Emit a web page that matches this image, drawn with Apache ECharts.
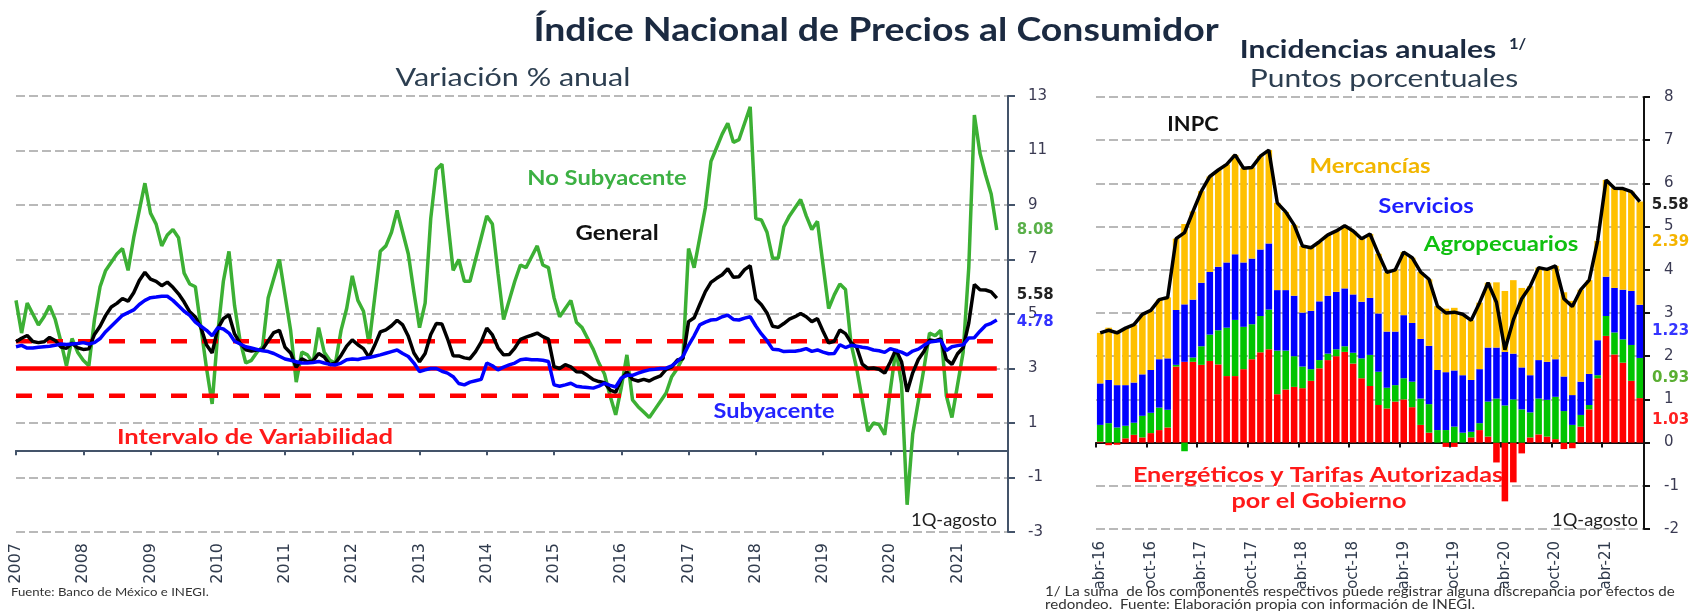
<!DOCTYPE html>
<html lang="es">
<head>
<meta charset="utf-8">
<title>Índice Nacional de Precios al Consumidor</title>
<script src="https://cdn.jsdelivr.net/npm/echarts/dist/echarts.min.js"></script>
<style>
  html, body { margin: 0; padding: 0; background: #fff; }
  #chart { width: 1692px; height: 615px; }
</style>
</head>
<body>
<div id="chart"></div>
<script>
// ---- Variación % anual, ene-2007 a 1Q-ago-2021 (mensual) ----
const years = [2007, 2008, 2009, 2010, 2011, 2012, 2013, 2014, 2015, 2016, 2017, 2018, 2019, 2020, 2021];

const general = [
  3.98, 4.11, 4.21, 3.99, 3.95, 3.98, 4.14, 4.03, 3.79, 3.74, 3.93, 3.76,
  3.70, 3.72, 4.25, 4.55, 4.95, 5.26, 5.39, 5.57, 5.47, 5.78, 6.23, 6.53,
  6.28, 6.20, 6.04, 6.17, 5.98, 5.74, 5.44, 5.08, 4.89, 4.50, 3.86, 3.57,
  4.46, 4.83, 4.97, 4.27, 3.92, 3.69, 3.64, 3.68, 3.70, 4.02, 4.32, 4.40,
  3.78, 3.57, 3.04, 3.36, 3.25, 3.28, 3.55, 3.42, 3.14, 3.20, 3.48, 3.82,
  4.05, 3.87, 3.73, 3.41, 3.85, 4.34, 4.42, 4.57, 4.77, 4.60, 4.18, 3.57,
  3.25, 3.55, 4.25, 4.65, 4.63, 4.09, 3.47, 3.46, 3.39, 3.36, 3.62, 3.97,
  4.48, 4.23, 3.76, 3.50, 3.51, 3.75, 4.07, 4.15, 4.22, 4.30, 4.17, 4.08,
  3.07, 3.00, 3.14, 3.06, 2.88, 2.87, 2.74, 2.59, 2.52, 2.48, 2.21, 2.13,
  2.61, 2.87, 2.60, 2.54, 2.60, 2.54, 2.65, 2.73, 2.97, 3.06, 3.31, 3.36,
  4.72, 4.86, 5.35, 5.82, 6.16, 6.31, 6.44, 6.66, 6.35, 6.37, 6.63, 6.77,
  5.55, 5.34, 5.04, 4.55, 4.51, 4.65, 4.81, 4.90, 5.02, 4.90, 4.72, 4.83,
  4.37, 3.94, 4.00, 4.41, 4.28, 3.95, 3.78, 3.16, 3.00, 3.02, 2.97, 2.83,
  3.24, 3.70, 3.25, 2.15, 2.84, 3.33, 3.62, 4.05, 4.01, 4.09, 3.33, 3.15,
  3.54, 3.76, 4.67, 6.08, 5.89, 5.88, 5.81, 5.58
];

const subyacente = [
  3.80, 3.85, 3.75, 3.75, 3.78, 3.80, 3.82, 3.85, 3.90, 3.88, 3.90, 3.92,
  3.95, 3.90, 3.95, 4.10, 4.35, 4.55, 4.75, 4.95, 5.05, 5.15, 5.35, 5.50,
  5.60, 5.62, 5.65, 5.65, 5.50, 5.30, 5.10, 4.95, 4.70, 4.55, 4.40, 4.20,
  4.50, 4.45, 4.30, 4.00, 3.90, 3.80, 3.75, 3.70, 3.65, 3.62, 3.55, 3.45,
  3.35, 3.30, 3.25, 3.20, 3.20, 3.22, 3.26, 3.20, 3.15, 3.13, 3.20, 3.32,
  3.35, 3.33, 3.38, 3.40, 3.45, 3.50, 3.56, 3.62, 3.68, 3.55, 3.44, 3.20,
  2.89, 2.95, 3.00, 3.00, 2.90, 2.83, 2.70, 2.45, 2.40, 2.50, 2.55, 2.60,
  3.20, 3.10, 2.95, 3.05, 3.13, 3.20, 3.32, 3.35, 3.32, 3.32, 3.30, 3.26,
  2.40, 2.35, 2.40, 2.46, 2.35, 2.32, 2.30, 2.28, 2.35, 2.46, 2.38, 2.32,
  2.65, 2.75, 2.75, 2.83, 2.90, 2.95, 2.97, 3.00, 3.01, 3.10, 3.26, 3.44,
  3.85, 4.20, 4.60, 4.70, 4.78, 4.80, 4.90, 4.96, 4.80, 4.78, 4.85, 4.90,
  4.56, 4.27, 4.02, 3.71, 3.69, 3.62, 3.63, 3.63, 3.67, 3.73, 3.63, 3.68,
  3.60, 3.54, 3.55, 3.87, 3.77, 3.85, 3.82, 3.78, 3.75, 3.68, 3.65, 3.59,
  3.73, 3.66, 3.60, 3.50, 3.64, 3.71, 3.85, 3.97, 4.00, 4.03, 3.66, 3.80,
  3.84, 3.87, 4.12, 4.13, 4.37, 4.58, 4.66, 4.78
];

const noSubyacente = [
  5.5, 4.3, 5.4, 5.0, 4.6, 4.9, 5.3, 4.8, 4.0, 3.1, 4.1, 3.6,
  3.3, 3.1, 4.8, 6.0, 6.6, 6.9, 7.2, 7.4, 6.6, 7.8, 8.8, 9.8,
  8.7, 8.3, 7.5, 7.9, 8.1, 7.8, 6.5, 6.1, 6.0, 4.5, 3.0, 1.7,
  4.3, 6.2, 7.3, 5.3, 4.0, 3.2, 3.3, 3.6, 3.8, 5.6, 6.3, 7.0,
  5.7, 4.4, 2.5, 3.6, 3.5, 3.2, 4.5, 3.6, 3.3, 3.2, 4.4, 5.2,
  6.4, 5.5, 5.1, 3.9, 5.6, 7.3, 7.5, 8.0, 8.8, 8.0, 7.2, 5.8,
  4.5, 5.4, 8.5, 10.3, 10.5, 8.5, 6.6, 7.0, 6.2, 6.2, 7.0, 7.8,
  8.6, 8.3, 6.5, 4.8, 5.5, 6.2, 6.8, 6.7, 7.1, 7.5, 6.8, 6.7,
  5.6, 4.9, 5.2, 5.5, 4.7, 4.5, 4.1, 3.7, 3.2, 2.8, 2.0, 1.3,
  2.3, 3.5, 1.85, 1.6, 1.4, 1.2, 1.5, 1.8, 2.1, 2.7, 3.0, 3.4,
  7.4, 6.7, 7.8, 8.9, 10.6, 11.1, 11.6, 12.0, 11.3, 11.4, 12.0, 12.6,
  8.5, 8.45, 8.0, 7.05, 7.05, 8.2, 8.6, 8.9, 9.2, 8.6, 8.1, 8.4,
  6.8, 5.2, 5.7, 6.1, 5.9, 3.9, 3.0, 1.85, 0.7, 1.0, 0.94, 0.57,
  2.2, 3.7, 2.44, -2.0, 0.6, 1.8, 3.0, 4.3, 4.2, 4.4, 2.0, 1.2,
  2.4, 3.6, 6.7, 12.3, 10.9, 10.1, 9.4, 8.08
];

const metaInflacion = [3];
const intervaloVariabilidad = [2, 4];

// ---- Incidencias anuales, abr-16 a 1Q-ago-21 (puntos porcentuales) ----
const mesesAbrev = ['ene', 'feb', 'mar', 'abr', 'may', 'jun', 'jul', 'ago', 'sep', 'oct', 'nov', 'dic'];

const energeticos = [
  0.02, -0.06, -0.05, 0.10, 0.18, 0.12, 0.22, 0.29, 0.35, 1.76, 1.87, 1.87, 1.80,
  1.89, 1.81, 1.54, 1.54, 1.70, 1.93, 2.09, 2.16, 1.12, 1.23, 1.29, 1.26, 1.43,
  1.72, 1.91, 2.00, 2.10, 1.83, 1.49, 1.31, 0.87, 0.79, 0.95, 1.00, 0.82, 0.41,
  0.23, 0.00, -0.10, -0.10, 0.00, 0.12, 0.29, 0.14, -0.46, -1.36, -0.92, -0.25, 0.12,
  0.19, 0.14, 0.08, -0.15, -0.13, 0.37, 0.77, 1.49, 2.47, 2.04, 1.85, 1.43, 1.03
];
const agropecuarios = [
  0.39, 0.45, 0.35, 0.29, 0.28, 0.50, 0.47, 0.52, 0.41, 0.04, -0.20, 0.10, 0.43,
  0.61, 0.79, 1.12, 1.30, 0.98, 0.81, 0.84, 0.92, 1.01, 0.90, 0.71, 0.50, 0.27,
  0.19, 0.15, 0.16, 0.13, 0.25, 0.46, 0.72, 0.77, 0.48, 0.38, 0.49, 0.59, 0.61,
  0.66, 0.29, 0.29, 0.37, 0.23, 0.13, 0.16, 0.81, 1.02, 0.86, 1.00, 0.77, 0.58,
  0.83, 0.85, 0.98, 0.73, 0.41, 0.27, 0.10, 0.07, 0.46, 0.51, 0.54, 0.83, 0.93
];
const servicios = [
  0.96, 1.00, 0.98, 0.94, 0.93, 0.96, 0.99, 1.12, 1.19, 1.27, 1.33, 1.34, 1.47,
  1.45, 1.47, 1.51, 1.52, 1.49, 1.52, 1.54, 1.53, 1.40, 1.40, 1.40, 1.25, 1.35,
  1.36, 1.34, 1.33, 1.34, 1.35, 1.31, 1.32, 1.35, 1.30, 1.24, 1.46, 1.36, 1.38,
  1.35, 1.39, 1.34, 1.30, 1.33, 1.20, 1.25, 1.25, 1.18, 1.24, 1.06, 0.97, 0.86,
  0.89, 0.88, 0.87, 0.80, 0.69, 0.77, 0.72, 0.81, 0.91, 1.03, 1.15, 1.25, 1.23
];
const mercancias = [
  1.17, 1.21, 1.26, 1.32, 1.34, 1.39, 1.38, 1.38, 1.41, 1.65, 1.86, 2.04, 2.12,
  2.21, 2.24, 2.27, 2.30, 2.18, 2.11, 2.16, 2.16, 2.02, 1.81, 1.64, 1.54, 1.46,
  1.38, 1.41, 1.41, 1.45, 1.47, 1.46, 1.48, 1.38, 1.37, 1.43, 1.46, 1.51, 1.55,
  1.54, 1.48, 1.47, 1.45, 1.41, 1.38, 1.54, 1.50, 1.51, 1.41, 1.70, 1.84, 2.06,
  2.14, 2.14, 2.16, 1.95, 2.18, 2.13, 2.17, 2.30, 2.24, 2.31, 2.34, 2.30, 2.39
];
// INPC anual de los mismos meses (abr-16 a 1Q-ago-21)
const inpcIncidencias = general.slice(general.length - energeticos.length);
const mesesIncidencias = energeticos.map((_, i) => {
  const m = 3 + i;
  return mesesAbrev[m % 12] + '-' + (16 + Math.floor(m / 12));
});

const NUM = 'DejaVu Sans';
const TXT = 'Lato';
const last = general.length - 1;

// texto libre; sx estira a lo ancho como en la lámina original
function txt(text, x, y, size, color, weight, sx, align) {
  const a = align || 'center';
  return {
    type: 'text', x: x, y: y, scaleX: sx || 1, silent: true, z: 100,
    style: {
      text: text, fill: color, font: (weight || 'normal') + ' ' + size + 'px ' + TXT,
      align: a, textAlign: a, verticalAlign: 'middle', textVerticalAlign: 'middle'
    }
  };
}

function lastLabel(arr, color, off) {
  return arr.map((v, i) => i === arr.length - 1 ? {
    value: v,
    label: {
      show: true, position: 'right', distance: 9, offset: off || [0, 0],
      formatter: p => p.value.toFixed(2), color: color,
      fontFamily: NUM, fontWeight: 'bold', fontSize: 15
    }
  } : v);
}

const chart = echarts.init(document.getElementById('chart'));

const gridDash = { color: '#a3a3a3', width: 1.5, type: [9, 4] };

chart.setOption({
  animation: false,
  backgroundColor: '#fff',
  grid: [
    { left: 16, right: 684, top: 96, bottom: 83 },
    { left: 1096, right: 48, top: 97, bottom: 86 }
  ],
  xAxis: [
    { // linea en cero con marcas anuales
      gridIndex: 0, type: 'value', min: 0, max: 177, interval: 12, position: 'bottom',
      axisLine: { show: true, onZero: true, lineStyle: { color: '#44546a', width: 2 } },
      axisTick: { show: true, length: 5, lineStyle: { color: '#44546a', width: 2 } },
      axisLabel: { show: false }, splitLine: { show: false }
    },
    { // etiquetas de años al pie
      gridIndex: 0, type: 'value', min: 0, max: 177, interval: 12, position: 'bottom',
      axisLine: { show: false, onZero: false }, axisTick: { show: false }, splitLine: { show: false },
      axisLabel: {
        rotate: 90, margin: 11, fontFamily: NUM, fontSize: 16, color: '#2f3a4c',
        showMaxLabel: false,
        formatter: v => (v % 12 === 0 && years[v / 12]) ? String(years[v / 12]) : ''
      }
    },
    { // linea en cero, incidencias
      gridIndex: 1, type: 'category', data: mesesIncidencias, boundaryGap: true, position: 'bottom',
      axisLine: { show: true, onZero: true, lineStyle: { color: '#111', width: 2 } },
      axisTick: { show: true, interval: 5, length: 5, lineStyle: { color: '#111', width: 2 } },
      axisLabel: { show: false }, splitLine: { show: false }
    },
    { // etiquetas de meses al pie
      gridIndex: 1, type: 'category', data: mesesIncidencias, boundaryGap: true, position: 'bottom',
      axisLine: { show: false, onZero: false }, axisTick: { show: false }, splitLine: { show: false },
      axisLabel: { interval: 5, rotate: 90, margin: 12, fontFamily: NUM, fontSize: 15, color: '#2f3a4c' }
    }
  ],
  yAxis: [
    {
      gridIndex: 0, type: 'value', position: 'right', min: -3, max: 13, interval: 2,
      axisLine: { show: true, onZero: false, lineStyle: { color: '#44546a', width: 2 } },
      axisTick: { show: true, length: 7, lineStyle: { color: '#44546a', width: 2 } },
      axisLabel: { margin: 20, fontFamily: NUM, fontSize: 15, color: '#3a3a52' },
      splitLine: { show: true, lineStyle: gridDash }
    },
    {
      gridIndex: 1, type: 'value', position: 'right', min: -2, max: 8, interval: 1,
      axisLine: { show: true, onZero: false, lineStyle: { color: '#111', width: 2 } },
      axisTick: { show: true, length: 6, lineStyle: { color: '#111', width: 2 } },
      axisLabel: { margin: 20, fontFamily: NUM, fontSize: 15, color: '#3a3a52' },
      splitLine: { show: true, lineStyle: gridDash }
    }
  ],
  series: [
    {
      name: 'No Subyacente', type: 'line', xAxisIndex: 0, yAxisIndex: 0, z: 2,
      data: noSubyacente.map((v, i) => [i, v]), showSymbol: false, silent: true,
      lineStyle: { color: '#3cb034', width: 3.5 },
      endLabel: { show: true, distance: 20, formatter: p => p.value[1].toFixed(2), color: '#5ab04a',
        fontFamily: NUM, fontWeight: 'bold', fontSize: 15 }
    },
    {
      name: 'Meta', type: 'line', xAxisIndex: 0, yAxisIndex: 0, z: 3,
      data: [[0, metaInflacion[0]], [last, metaInflacion[0]]], showSymbol: false, silent: true,
      lineStyle: { color: '#ff0000', width: 4.5 }
    },
    ...intervaloVariabilidad.map(v => ({
      name: 'Intervalo', type: 'line', xAxisIndex: 0, yAxisIndex: 0, z: 3,
      data: [[0, v], [last, v]], showSymbol: false, silent: true,
      lineStyle: { color: '#ff0000', width: 4.5, type: [16, 15] }
    })),
    {
      name: 'General', type: 'line', xAxisIndex: 0, yAxisIndex: 0, z: 4,
      data: general.map((v, i) => [i, v]), showSymbol: false, silent: true,
      lineStyle: { color: '#000', width: 3.5 },
      endLabel: { show: true, distance: 20, formatter: p => p.value[1].toFixed(2), color: '#222',
        fontFamily: NUM, fontWeight: 'bold', fontSize: 15, offset: [0, -3] }
    },
    {
      name: 'Subyacente', type: 'line', xAxisIndex: 0, yAxisIndex: 0, z: 5,
      data: subyacente.map((v, i) => [i, v]), showSymbol: false, silent: true,
      lineStyle: { color: '#0000ff', width: 3.5 },
      endLabel: { show: true, distance: 20, formatter: p => p.value[1].toFixed(2), color: '#3333ff',
        fontFamily: NUM, fontWeight: 'bold', fontSize: 15, offset: [0, 2] }
    },
    // incidencias
    {
      name: 'Energéticos y Tarifas', type: 'bar', xAxisIndex: 2, yAxisIndex: 1, stack: 'inc',
      barCategoryGap: '22%', silent: true, itemStyle: { color: '#ff0000' },
      data: lastLabel(energeticos, '#ff2020')
    },
    {
      name: 'Agropecuarios', type: 'bar', xAxisIndex: 2, yAxisIndex: 1, stack: 'inc',
      barCategoryGap: '22%', silent: true, itemStyle: { color: '#00c400' },
      data: lastLabel(agropecuarios, '#5aae32')
    },
    {
      name: 'Servicios', type: 'bar', xAxisIndex: 2, yAxisIndex: 1, stack: 'inc',
      barCategoryGap: '22%', silent: true, itemStyle: { color: '#0000ff' },
      data: lastLabel(servicios, '#3535ff')
    },
    {
      name: 'Mercancías', type: 'bar', xAxisIndex: 2, yAxisIndex: 1, stack: 'inc',
      barCategoryGap: '22%', silent: true, itemStyle: { color: '#ffc000' },
      data: lastLabel(mercancias, '#f5b400', [0, -11])
    },
    {
      name: 'INPC', type: 'line', xAxisIndex: 2, yAxisIndex: 1, z: 6,
      data: inpcIncidencias, showSymbol: false, silent: true,
      lineStyle: { color: '#000', width: 3.5 },
      endLabel: { show: true, distance: 12, formatter: p => p.value.toFixed(2), color: '#222',
        fontFamily: NUM, fontWeight: 'bold', fontSize: 15, offset: [0, 4] }
    }
  ],
  graphic: [
    txt('Índice Nacional de Precios al Consumidor', 876, 31, 32, '#1b2a41', 'bold', 1.17),
    txt('Variación % anual', 513, 78, 25, '#2c3e50', 'normal', 1.22),
    txt('Incidencias anuales', 1368, 50, 25, '#1b2a41', 'bold', 1.2),
    txt('1/', 1509, 44, 15, '#1b2a41', 'bold', 1.1, 'left'),
    txt('Puntos porcentuales', 1384, 79, 25, '#2c3e50', 'normal', 1.2),

    txt('No Subyacente', 607, 178, 21, '#3cb043', 'bold', 1.13),
    txt('General', 617, 233, 21, '#111', 'bold', 1.14),
    txt('Subyacente', 774, 411, 21, '#2323ff', 'bold', 1.12),
    txt('Intervalo de Variabilidad', 255, 437, 21, '#ff1a1a', 'bold', 1.22),
    txt('1Q-agosto', 954, 521, 17, '#222', 'normal', 1.08),

    txt('INPC', 1193, 124, 21, '#111', 'bold', 1.04),
    txt('Mercancías', 1370, 166, 21, '#f2b600', 'bold', 1.14),
    txt('Servicios', 1426, 206, 21, '#1e1eff', 'bold', 1.14),
    txt('Agropecuarios', 1501, 244, 21, '#10c010', 'bold', 1.14),
    txt('Energéticos y Tarifas Autorizadas', 1318, 475, 21, '#ff1a1a', 'bold', 1.2),
    txt('por el Gobierno', 1319, 501, 21, '#ff1a1a', 'bold', 1.2),
    txt('1Q-agosto', 1595, 521, 17, '#222', 'normal', 1.08),

    txt('Fuente: Banco de México e INEGI.', 11, 592, 12, '#333', 'normal', 1.1, 'left'),
    txt('1/ La suma  de los componentes respectivos puede registrar alguna discrepancia por efectos de', 1045, 592, 12.5, '#333', 'normal', 1.21, 'left'),
    txt('redondeo.  Fuente: Elaboración propia con información de INEGI.', 1045, 605, 12.5, '#333', 'normal', 1.21, 'left')
  ]
});
</script>
</body>
</html>
